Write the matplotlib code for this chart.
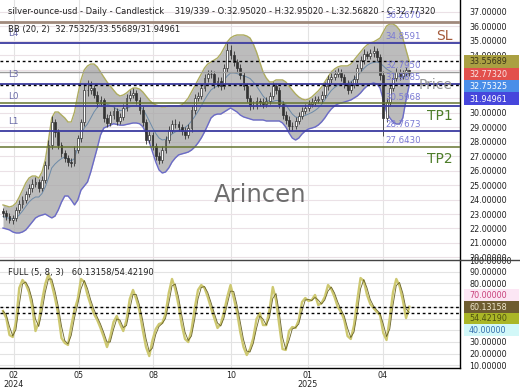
import numpy as np
import pandas as pd
import matplotlib
matplotlib.use("Agg")
import matplotlib.pyplot as plt
from matplotlib.lines import Line2D
from matplotlib.patches import Rectangle

plt.rcParams['font.family'] = ['DejaVu Sans']

# ---------------- data ----------------
title = "silver-ounce-usd - Daily - Candlestick    319/339 - O:32.95020 - H:32.95020 - L:32.56820 - C:32.77320"
bb_text = "BB (20, 2)  32.75325/33.55689/31.94961"
stoch_text = "FULL (5, 8, 3)   60.13158/54.42190"

opens = [23.20, 23.07, 22.86, 22.59, 22.72, 23.28, 23.70, 23.97, 24.39, 24.80,
         25.08, 25.22, 24.80, 25.36, 26.39, 27.78, 29.37, 28.68, 27.78, 27.22,
         26.88, 26.60, 26.53, 27.43, 28.26, 29.37, 31.58, 31.58, 31.72, 31.24,
         30.69, 30.89, 29.65, 29.30, 29.86, 30.13, 29.44, 29.72, 30.34, 31.03,
         31.24, 31.38, 30.89, 30.20, 29.37, 28.12, 28.47, 27.71, 27.02, 26.74,
         27.43, 28.12, 28.82, 29.23, 29.23, 29.02, 28.75, 28.47, 28.95, 30.20,
         31.03, 31.17, 31.72, 32.41, 32.69, 32.69, 32.00, 32.21, 31.86, 33.11,
         34.35, 34.01, 33.52, 33.11, 32.62, 31.86, 31.03, 30.48, 30.48, 30.82,
         30.75, 30.62, 30.82, 31.17, 31.86, 31.58, 30.62, 29.86, 29.51, 29.09,
         29.09, 29.44, 29.79, 30.13, 30.34, 30.62, 30.75, 30.89, 30.96, 31.24,
         31.86, 32.35, 32.48, 32.69, 32.83, 32.48, 32.00, 31.58, 31.93, 32.35,
         33.11, 33.66, 34.08, 33.94, 34.15, 34.28, 33.87, 32.62, 29.64, 30.75,
         31.72, 32.41, 32.83, 32.55, 32.76, 32.95]
highs = [23.45, 23.30, 23.05, 22.95, 23.50, 23.95, 24.25, 24.60, 25.05, 25.40,
         25.55, 25.40, 25.60, 26.65, 28.10, 29.75, 29.55, 28.90, 28.00, 27.45,
         27.10, 26.85, 27.70, 28.50, 29.60, 32.00, 32.30, 32.20, 31.95, 31.50,
         31.20, 31.05, 29.95, 30.15, 30.40, 30.35, 30.00, 30.60, 31.30, 31.55,
         31.75, 31.60, 31.10, 30.45, 29.60, 28.80, 28.70, 27.95, 27.30, 27.70,
         28.40, 29.10, 29.50, 29.55, 29.45, 29.25, 29.00, 29.20, 30.50, 31.30,
         31.45, 32.00, 32.70, 32.95, 33.00, 32.90, 32.50, 32.45, 33.40, 34.85,
         34.70, 34.25, 33.75, 33.35, 32.85, 32.10, 31.25, 30.80, 31.10, 31.05,
         31.00, 31.10, 31.45, 32.15, 32.10, 31.80, 30.85, 30.10, 29.75, 29.40,
         29.70, 30.05, 30.40, 30.60, 30.90, 31.00, 31.15, 31.20, 31.50, 32.15,
         32.65, 32.75, 32.95, 33.10, 33.05, 32.70, 32.25, 32.20, 32.60, 33.40,
         33.95, 34.40, 34.30, 34.45, 34.60, 34.50, 34.10, 32.90, 31.00, 32.00,
         32.70, 33.10, 33.05, 33.00, 33.20, 32.95]
lows = [22.80, 22.60, 22.35, 22.30, 22.55, 23.05, 23.45, 23.75, 24.15, 24.55,
        24.85, 24.50, 24.60, 25.15, 26.15, 27.50, 28.35, 27.50, 26.95, 26.60,
        26.35, 26.25, 26.35, 27.20, 28.00, 29.10, 31.20, 31.30, 31.00, 30.40,
        30.45, 29.35, 29.00, 29.10, 29.60, 29.15, 29.20, 29.50, 30.10, 30.80,
        31.00, 30.60, 29.95, 29.10, 27.85, 27.90, 27.40, 26.75, 26.45, 26.55,
        27.20, 27.90, 28.60, 28.95, 28.75, 28.50, 28.20, 28.25, 28.70, 29.95,
        30.80, 30.95, 31.50, 32.15, 32.40, 31.75, 31.80, 31.60, 31.65, 32.85,
        33.70, 33.25, 32.85, 32.35, 31.60, 30.75, 30.20, 30.25, 30.30, 30.50,
        30.35, 30.40, 30.60, 30.95, 31.30, 30.35, 29.60, 29.25, 28.80, 28.75,
        28.85, 29.20, 29.55, 29.90, 30.10, 30.40, 30.50, 30.65, 30.70, 31.00,
        31.60, 32.10, 32.25, 32.45, 32.20, 31.75, 31.30, 31.35, 31.70, 32.10,
        32.90, 33.40, 33.70, 33.70, 33.90, 33.60, 32.30, 28.40, 29.40, 30.50,
        31.50, 32.20, 32.30, 32.35, 32.55, 32.57]
closes = [23.07, 22.86, 22.59, 22.72, 23.28, 23.70, 23.97, 24.39, 24.80, 25.08,
          25.22, 24.80, 25.36, 26.39, 27.78, 29.37, 28.68, 27.78, 27.22, 26.88,
          26.60, 26.53, 27.43, 28.26, 29.37, 31.58, 31.58, 31.72, 31.24, 30.69,
          30.89, 29.65, 29.30, 29.86, 30.13, 29.44, 29.72, 30.34, 31.03, 31.24,
          31.38, 30.89, 30.20, 29.37, 28.12, 28.47, 27.71, 27.02, 26.74, 27.43,
          28.12, 28.82, 29.23, 29.23, 29.02, 28.75, 28.47, 28.95, 30.20, 31.03,
          31.17, 31.72, 32.41, 32.69, 32.69, 32.00, 32.21, 31.86, 33.11, 34.35,
          34.01, 33.52, 33.11, 32.62, 31.86, 31.03, 30.48, 30.48, 30.82, 30.75,
          30.62, 30.82, 31.17, 31.86, 31.58, 30.62, 29.86, 29.51, 29.09, 29.09,
          29.44, 29.79, 30.13, 30.34, 30.62, 30.75, 30.89, 30.96, 31.24, 31.86,
          32.35, 32.48, 32.69, 32.83, 32.48, 32.00, 31.58, 31.93, 32.35, 33.11,
          33.66, 34.08, 33.94, 34.15, 34.28, 33.87, 32.62, 29.64, 30.75, 31.72,
          32.41, 32.83, 32.55, 32.76, 32.97, 32.77]

bb_upper = [23.63, 23.56, 23.49, 23.56, 23.76, 24.18, 24.66, 25.15, 25.49, 25.63,
            25.63, 25.49, 25.91, 26.74, 28.12, 29.65, 30.06, 30.06, 29.85, 29.65,
            29.37, 29.37, 30.06, 31.24, 32.28, 32.97, 33.25, 33.38, 33.38, 33.18,
            32.83, 32.48, 32.14, 31.86, 31.58, 31.31, 31.17, 31.24, 31.38, 31.58,
            31.72, 31.72, 31.65, 31.45, 31.17, 30.89, 30.68, 30.55, 30.48, 30.41,
            30.41, 30.48, 30.48, 30.48, 30.48, 30.55, 30.75, 31.03, 31.45, 31.86,
            32.28, 32.69, 33.11, 33.38, 33.52, 33.66, 33.80, 34.08, 34.49, 34.91,
            35.18, 35.32, 35.39, 35.39, 35.39, 35.32, 35.18, 34.77, 34.21, 33.52,
            32.83, 32.41, 32.14, 32.14, 32.28, 32.28, 32.28, 32.14, 31.86, 31.58,
            31.31, 31.10, 30.96, 30.89, 30.96, 31.10, 31.31, 31.52, 31.79, 32.14,
            32.48, 32.83, 33.04, 33.18, 33.25, 33.25, 33.25, 33.38, 33.66, 33.94,
            34.21, 34.49, 34.70, 34.84, 34.91, 35.04, 35.18, 35.60, 36.01, 36.15,
            36.15, 36.01, 35.74, 35.18, 34.35, 33.56]
bb_lower = [22.03, 21.97, 21.90, 21.76, 21.69, 21.69, 21.76, 21.90, 22.17, 22.45,
            22.73, 22.86, 22.93, 23.00, 22.86, 22.73, 22.86, 23.28, 23.83, 24.25,
            24.25, 23.97, 23.63, 23.97, 24.66, 24.94, 25.22, 25.91, 26.74, 27.57,
            28.47, 28.95, 29.05, 29.15, 29.25, 29.20, 29.15, 29.15, 29.20, 29.25,
            29.30, 29.30, 29.25, 29.05, 28.61, 27.99, 27.29, 26.60, 26.05, 25.84,
            25.91, 26.19, 26.60, 26.88, 27.09, 27.16, 27.22, 27.29, 27.43, 27.64,
            27.92, 28.26, 28.68, 29.16, 29.65, 29.85, 29.92, 29.92, 30.06, 30.20,
            30.34, 30.20, 30.06, 29.85, 29.72, 29.65, 29.58, 29.51, 29.51, 29.51,
            29.51, 29.44, 29.44, 29.44, 29.44, 29.44, 29.30, 29.02, 28.61, 28.26,
            28.12, 28.26, 28.54, 28.75, 28.89, 28.95, 29.02, 29.16, 29.37, 29.65,
            29.99, 30.27, 30.48, 30.62, 30.68, 30.75, 30.82, 30.89, 31.03, 31.17,
            31.38, 31.65, 31.86, 32.00, 32.07, 32.00, 31.72, 30.89, 30.06, 29.65,
            29.37, 29.23, 29.23, 29.65, 30.89, 31.95]

stoch_k = [56.4, 50.4, 35.9, 34.2, 47.0, 76.1, 82.9, 79.5, 72.6, 59.8,
           39.3, 47.0, 65.0, 79.5, 88.0, 79.5, 67.5, 53.8, 33.3, 29.1,
           27.4, 43.6, 57.3, 66.7, 83.8, 81.2, 70.1, 61.5, 53.8, 48.7,
           41.9, 34.2, 25.6, 34.2, 47.0, 52.1, 45.3, 39.3, 48.7, 66.7,
           74.4, 66.7, 56.4, 40.2, 25.6, 17.9, 31.6, 41.0, 45.3, 46.2,
           53.8, 71.8, 83.8, 75.2, 61.5, 44.4, 32.5, 29.9, 40.2, 59.0,
           74.4, 78.6, 76.1, 68.4, 59.0, 50.4, 41.9, 45.3, 55.6, 68.4,
           78.6, 67.5, 55.6, 38.5, 25.6, 18.8, 23.9, 33.3, 49.6, 54.7,
           44.4, 44.4, 57.3, 76.9, 65.8, 44.4, 23.9, 23.1, 39.3, 42.7,
           41.9, 48.7, 64.1, 67.5, 65.0, 65.8, 70.1, 61.5, 63.2, 68.4,
           78.6, 75.2, 68.4, 59.8, 55.6, 48.7, 35.0, 32.5, 44.4, 65.8,
           84.6, 82.1, 70.1, 62.4, 59.0, 55.6, 53.0, 37.6, 31.6, 50.4,
           72.6, 83.8, 77.8, 65.8, 50.4, 60.1]

month_pos = [3.38, 23.4, 46.2, 70.2, 93.8, 116.9]
month_labels = ['02\n2024', '05', '08', '10', '01\n2025', '04']

price_ticks = [20, 21, 22, 23, 24, 25, 26, 27, 28, 29, 30, 34, 35, 36, 37]
stoch_ticks = [10, 20, 30, 80, 90, 100]

level_prices = [36.2670, 34.8591, 32.7950, 31.9885, 30.70, 30.47, 28.7673, 27.6430]
level_value_labels = ['36.2670', '34.8591', '32.7950', '31.9885', '30.5968', '28.7673', '27.6430']
l_names = ['L4', 'L3', 'L0', 'L1']
l_prices = [34.8591, 31.9885, 30.47, 28.7673]
big_names = ['SL', 'Price', 'TP1', 'TP2']
big_prices = [36.2670, 32.7950, 30.70, 27.6430]
bb_last = [33.55689, 31.94961]
main_box_values = [33.55689, 32.77320, 32.75325, 31.94961]
stoch_last = [60.13158, 54.42190]
stoch_box_values = [70.0, 60.13158, 54.42190, 40.0]

# ---------------- figure ----------------
W, H = 520, 390
fig = plt.figure(figsize=(W / 100, H / 100), dpi=100)
fig.patch.set_facecolor('white')


def axes_px(left, top, right, bottom):
    return fig.add_axes([left / W, 1 - bottom / H, (right - left) / W, (bottom - top) / H])


ax = axes_px(0, 0, 460, 260)
ax2 = axes_px(0, 260, 460, 368)

n = len(closes)
idx = np.arange(n)
o = np.array(opens); h = np.array(highs); l = np.array(lows); c = np.array(closes)
up_b = np.array(bb_upper); lo_b = np.array(bb_lower)
mid_b = (up_b + lo_b) / 2
xmin, xmax = -0.92, 140.6

# ---- main pane ----
ax.set_xlim(xmin, xmax)
ax.set_ylim(19.82, 37.81)
ax.set_yticks(np.arange(20, 38), minor=True)
ax.set_yticks(price_ticks)
ax.set_yticklabels([f"{v:.5f}" for v in price_ticks])
ax.set_xticks(month_pos)
ax.set_xticklabels([])
ax.grid(axis='y', which='both', color='#ebe1e6', lw=0.8, zorder=0)
ax.grid(axis='x', color='#e3e3e3', lw=0.8, zorder=0)
ax.tick_params(axis='y', which='both', length=0, labelleft=False, labelright=True,
               labelsize=5.8, pad=6.5, labelcolor='#222222')
ax.tick_params(axis='x', length=0)
for s in ['top', 'left', 'bottom']:
    ax.spines[s].set_visible(False)
ax.spines['right'].set_color('black')
ax.spines['right'].set_linewidth(1.0)

ax.fill_between(idx, lo_b, up_b, color='#a6a6a6', alpha=0.75, lw=0, zorder=2)
ax.plot(idx, up_b, color='#aeac60', lw=1.0, zorder=3)
ax.plot(idx, lo_b, color='#6b6bc8', lw=1.0, zorder=3)
ax.plot(idx, mid_b, color='#6c8aa8', lw=0.7, zorder=3)

ax.vlines(idx, l, h, color='#333333', lw=0.6, zorder=4)
upc = c >= o
ax.bar(idx[upc], (c - o)[upc], bottom=o[upc], width=0.6, color='white',
       edgecolor='#333333', lw=0.5, zorder=5)
ax.bar(idx[~upc], (o - c)[~upc], bottom=c[~upc], width=0.6, color='#333333',
       edgecolor='#333333', lw=0.5, zorder=5)

level_colors = ['#a08a7c', '#3c3ca0', '#9a9a9a', '#3c3ca0', '#667530', '#3c3ca0', '#3c3ca0', '#667530']
level_widths = [2.0, 1.3, 1.0, 1.3, 1.1, 1.3, 1.3, 1.1]
for p, col, lw in zip(level_prices, level_colors, level_widths):
    ax.axhline(p, color=col, lw=lw, zorder=6)
for p in bb_last:
    ax.axhline(p, color='black', lw=1.0, ls=(0, (2, 2)), zorder=7)

for txt in level_value_labels:
    ax.annotate(txt, xy=(385 / 460, float(txt)), xycoords=('axes fraction', 'data'),
                xytext=(0, 1.5), textcoords='offset points', va='bottom', ha='left',
                fontsize=6.2, color='#7a7ad4', zorder=8)
for name, p in zip(l_names, l_prices):
    ax.annotate(name, xy=(8 / 460, p), xycoords=('axes fraction', 'data'),
                xytext=(0, 3.5), textcoords='offset points', va='bottom', ha='left',
                fontsize=6.3, color='#6a6aa8', zorder=8)
big_colors = ['#a4593a', '#8a8a8a', '#4e7d2a', '#4e7d2a']
big_offsets = [-10, -9, -9.5, -8.5]
for name, p, col, off in zip(big_names, big_prices, big_colors, big_offsets):
    ax.annotate(name, xy=(453 / 460, p), xycoords=('axes fraction', 'data'),
                xytext=(0, off), textcoords='offset points', va='center', ha='right',
                fontsize=10, color=col, alpha=0.9 if name == 'Price' else 1.0, zorder=8)

# ---- stochastic pane ----
ax2.set_xlim(xmin, xmax)
ax2.set_ylim(7.7, 100)
ax2.set_yticks(np.arange(10, 101, 10), minor=True)
ax2.set_yticks(stoch_ticks)
ax2.set_yticklabels([f"{v:.5f}" for v in stoch_ticks])
ax2.set_xticks(month_pos)
ax2.set_xticklabels(month_labels)
for t in ax2.get_xticklabels():
    t.set_linespacing(0.95)
ax2.grid(axis='y', which='both', color='#e3e3e3', lw=0.8, zorder=0)
ax2.grid(axis='x', color='#e3e3e3', lw=0.8, zorder=0)
ax2.tick_params(axis='y', which='both', length=0, labelleft=False, labelright=True,
                labelsize=5.8, pad=6.5, labelcolor='#222222')
ax2.tick_params(axis='x', length=0, labelsize=5.8, pad=2.5, labelcolor='#222222')
for s in ['top', 'left']:
    ax2.spines[s].set_visible(False)
for s in ['right', 'bottom']:
    ax2.spines[s].set_color('black')
    ax2.spines[s].set_linewidth(1.0)

k_line = np.array(stoch_k)
d_line = pd.Series(stoch_k).rolling(2, min_periods=1).mean().to_numpy()
ax2.plot(idx, k_line, color='#cdc870', lw=1.7, zorder=3)
ax2.plot(idx, d_line, color='#6a6428', lw=0.6, zorder=4)
for v in stoch_last:
    ax2.axhline(v, color='black', lw=1.0, ls=(0, (2, 2)), zorder=5)

# ---- texts ----
fig.text(8 / W, 1 - 12 / H, title, fontsize=6.0, va='center', ha='left', color='#222222')
fig.text(8 / W, 1 - 29.5 / H, bb_text, fontsize=6.0, va='center', ha='left', color='#222222')
fig.text(8 / W, 1 - 272.5 / H, stoch_text, fontsize=6.0, va='center', ha='left', color='#222222')
fig.text(260 / W, 1 - 195 / H, 'Arincen', fontsize=17.5, va='center', ha='center',
         color='#555555', alpha=0.85)

fig.add_artist(Line2D([0, 1], [1 - 260 / H, 1 - 260 / H], transform=fig.transFigure,
                      color='#444444', lw=1.0))


def ypix(axis, value):
    return H - axis.transData.transform((0, value))[1]


def stacked_boxes(axis, values, texts, bgs, fgs, step):
    prev = -1e9
    for v, t, bg, fg in zip(values, texts, bgs, fgs):
        y = max(ypix(axis, v), prev + step)
        prev = y
        fig.add_artist(Rectangle((464 / W, 1 - (y + step / 2) / H), 55 / W, step / H,
                                 transform=fig.transFigure, facecolor=bg,
                                 edgecolor='none', zorder=5))
        fig.text(469 / W, 1 - (y + 0.5) / H, t, fontsize=5.8, color=fg, va='center',
                 ha='left', zorder=6)


stacked_boxes(ax, main_box_values, [f"{v:.5f}" for v in main_box_values],
              ['#aaa042', '#e2504c', '#4a8ee8', '#4646dc'],
              ['#3a3418', '#fbe8e8', '#ffffff', '#ffffff'], 12.4)
stacked_boxes(ax2, stoch_box_values, [f"{v:.5f}" for v in stoch_box_values],
              ['#fce6f4', '#6e5c30', '#aab626', '#d2f8f8'],
              ['#c8407a', '#efe6cc', '#4e5010', '#3670b0'], 11.6)

fig.savefig('out.png', dpi=100, facecolor='white')
